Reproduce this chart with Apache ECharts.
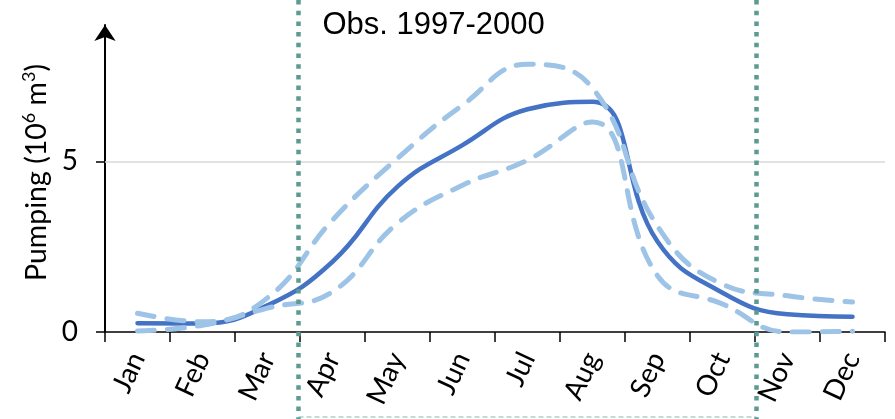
<!DOCTYPE html>
<html>
<head>
<meta charset="utf-8">
<script src="https://cdn.jsdelivr.net/npm/echarts@6/dist/echarts.min.js"></script>
<style>
  html, body { margin: 0; padding: 0; background: #ffffff; }
  #chart { width: 895px; height: 419px; }
</style>
</head>
<body>
<div id="chart"></div>
<script>
// Monthly pumping volumes (10^6 m3): central curve and upper / lower envelope
const months = ['Jan', 'Feb', 'Mar', 'Apr', 'May', 'Jun', 'Jul', 'Aug', 'Sep', 'Oct', 'Nov', 'Dec'];
const pumpingMid  = [0.26, 0.25, 0.78, 2.06, 4.26, 5.48, 6.53, 6.75, 2.65, 1.15, 0.52, 0.45];
const pumpingHigh = [0.55, 0.30, 1.00, 3.28, 5.09, 6.65, 7.85, 7.15, 3.10, 1.40, 1.06, 0.88];
const pumpingLow  = [0.03, 0.20, 0.70, 1.18, 3.19, 4.30, 5.04, 6.16, 1.65, 0.82, 0.00, 0.02];
const yTickValues = [0, 5];
const gridValue = 5;
// Observation window, first and last month inside it
const obsFirst = 'Apr';
const obsLast = 'Oct';
const obsLabel = 'Obs. 1997-2000';

const chart = echarts.init(document.getElementById('chart'), null, { renderer: 'canvas' });

const labelFont = 'Lato, "Open Sans", sans-serif';
const dashStyle = { color: '#9DC3E6', width: 5, type: [17, 13], cap: 'round' };

chart.setOption({
  animation: false,
  grid: { left: 105, right: 10, top: 25, bottom: 87 },
  xAxis: {
    type: 'category',
    data: months,
    boundaryGap: true,
    axisLine: { lineStyle: { color: '#000', width: 1.5 } },
    axisTick: { show: true, length: 10, lineStyle: { color: '#000', width: 1.5 } },
    axisLabel: {
      interval: 0, rotate: 65, margin: 22,
      color: '#000', fontFamily: labelFont, fontSize: 28
    },
    splitLine: { show: false }
  },
  yAxis: {
    type: 'value',
    min: 0,
    max: 9,
    name: '{a|Pumping (10}{s|6}{a| m}{s|3}{a|)}',
    nameLocation: 'middle',
    nameGap: 50,
    nameTextStyle: {
      color: '#000',
      padding: [0, 0, 0, 12],
      rich: {
        a: { fontFamily: labelFont, fontSize: 28.5, lineHeight: 32, color: '#000' },
        s: { fontFamily: labelFont, fontSize: 18, lineHeight: 20, verticalAlign: 'top', color: '#000' }
      }
    },
    axisLine: {
      show: true,
      lineStyle: { color: '#000', width: 2 },
      symbol: ['none', 'arrow'],
      symbolSize: [16, 16]
    },
    axisTick: {
      show: true, length: 9, customValues: yTickValues,
      lineStyle: { color: '#000', width: 1.5 }
    },
    axisLabel: {
      customValues: yTickValues, margin: 27,
      color: '#000', fontFamily: labelFont, fontSize: 28
    },
    splitLine: { show: false }
  },
  series: [
    {
      name: 'mid', type: 'line', data: pumpingMid, smooth: 0.45,
      symbol: 'none', z: 3,
      lineStyle: { color: '#4472C4', width: 4.5, cap: 'round' },
      markLine: {
        silent: true, symbol: ['none', 'none'], label: { show: false },
        lineStyle: { color: '#D9D9D9', width: 1.5, type: 'solid' },
        data: [{ yAxis: gridValue }],
        z: 1
      }
    },
    {
      name: 'high', type: 'line', data: pumpingHigh, smooth: 0.45,
      symbol: 'none', z: 4, lineStyle: dashStyle
    },
    {
      name: 'low', type: 'line', data: pumpingLow, smooth: 0.45,
      symbol: 'none', z: 4, lineStyle: dashStyle
    }
  ]
});

// Observation window edges sit on the category boundaries
const iFirst = months.indexOf(obsFirst);
const iLast = months.indexOf(obsLast);
const px = (m) => chart.convertToPixel({ xAxisIndex: 0 }, m);
const leftEdge = (px(months[iFirst - 1]) + px(months[iFirst])) / 2 - 1.5;
const rightEdge = (px(months[iLast]) + px(months[iLast + 1])) / 2 + 1.5;
const H = chart.getHeight();

chart.setOption({
  graphic: [
    {
      type: 'line', z: 100, silent: true,
      shape: { x1: leftEdge, y1: 0, x2: leftEdge, y2: H },
      style: { stroke: '#5B9B92', lineWidth: 4.5, lineDash: [4.5, 6.2] }
    },
    {
      type: 'line', z: 100, silent: true,
      shape: { x1: rightEdge, y1: 0, x2: rightEdge, y2: H },
      style: { stroke: '#5B9B92', lineWidth: 4.5, lineDash: [4.5, 6.2] }
    },
    {
      type: 'line', z: 99, silent: true,
      shape: { x1: leftEdge, y1: H - 2, x2: rightEdge, y2: H - 2 },
      style: { stroke: '#A9D0CB', lineWidth: 1.5, lineDash: [5, 3] }
    },
    {
      type: 'text', z: 100, silent: true,
      x: leftEdge + 24, y: 25,
      style: {
        text: obsLabel, fill: '#000',
        font: '31px "Liberation Sans", Arial, sans-serif',
        textAlign: 'left', textVerticalAlign: 'middle'
      }
    }
  ]
});
</script>
</body>
</html>
